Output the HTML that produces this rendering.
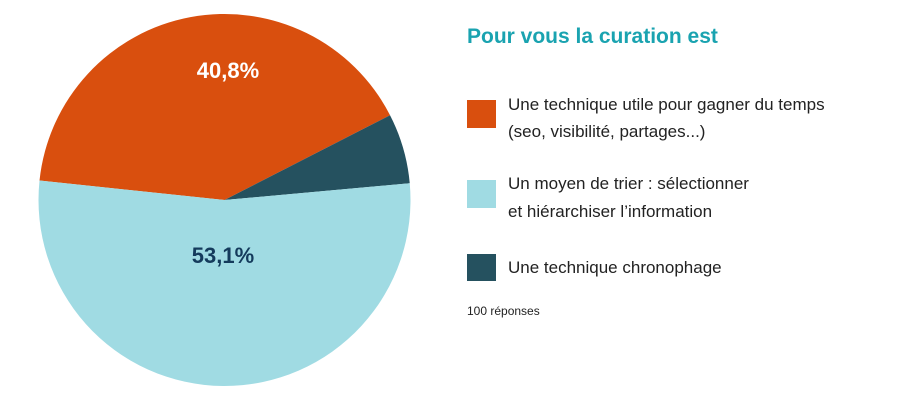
<!DOCTYPE html>
<html><head><meta charset="utf-8"><style>
body{margin:0;background:#fff;width:920px;height:400px;overflow:hidden;font-family:"Liberation Sans",sans-serif}
</style></head><body>
<svg width="920" height="400">
<g id="slices"></g>
<text x="228" y="78" text-anchor="middle" font-size="22" font-weight="bold" fill="#fff">40,8%</text>
<text x="223" y="263" text-anchor="middle" font-size="22" font-weight="bold" fill="#143b5c">53,1%</text>
<text x="467" y="43" font-size="21" font-weight="bold" fill="#1aa3b0">Pour vous la curation est</text>
<rect x="467" y="100" width="29" height="28" fill="#d94f0e"/>
<text x="508" y="110" font-size="17" fill="#222">Une technique utile pour gagner du temps</text>
<text x="508" y="137" font-size="17" fill="#222">(seo, visibilité, partages...)</text>
<rect x="467" y="180" width="29" height="28" fill="#a0dbe3"/>
<text x="508" y="189" font-size="17" fill="#222">Un moyen de trier : sélectionner</text>
<text x="508" y="217" font-size="17" fill="#222">et hiérarchiser l’information</text>
<rect x="467" y="254" width="29" height="27" fill="#25515f"/>
<text x="508" y="273" font-size="17" fill="#222">Une technique chronophage</text>
<text x="467" y="315" font-size="12" fill="#222">100 réponses</text>
</svg>
<script>
const categories=["Une technique utile","Un moyen de trier","Une technique chronophage"];
const values=[40.8,6.1,53.1];
const colors=["#d94f0e","#25515f","#a0dbe3"];
const names=["slice-orange","slice-dark","slice-lightblue"];
const cx=224.5,cy=200,r=186;
const total=values.reduce((a,b)=>a+b,0);
let a=276;
const g=document.getElementById('slices');
function pt(deg){const t=deg*Math.PI/180;return [cx+r*Math.sin(t),cy-r*Math.cos(t)];}
values.forEach((v,i)=>{
  const sweep=v/total*360;
  const [x1,y1]=pt(a),[x2,y2]=pt(a+sweep);
  const p=document.createElementNS('http://www.w3.org/2000/svg','path');
  p.setAttribute('d',`M${cx},${cy}L${x1},${y1}A${r},${r} 0 ${sweep>180?1:0} 1 ${x2},${y2}Z`);
  p.setAttribute('fill',colors[i]);
  
  
  g.appendChild(p);
  a+=sweep;
});
</script>
</body></html>
